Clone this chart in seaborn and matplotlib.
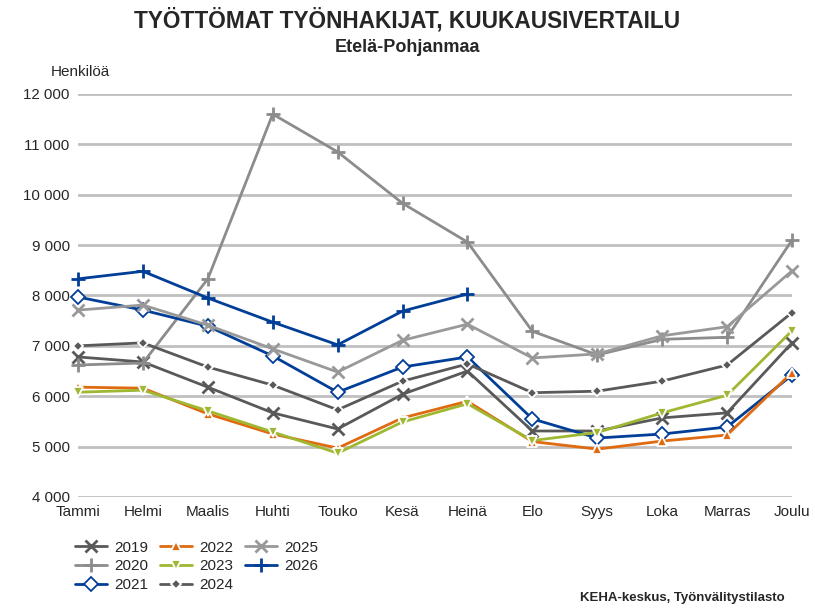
import numpy as np
import pandas as pd
import matplotlib
matplotlib.use("Agg")
import matplotlib.pyplot as plt
import seaborn as sns

months = ["Tammi", "Helmi", "Maalis", "Huhti", "Touko", "Kesä", "Heinä",
          "Elo", "Syys", "Loka", "Marras", "Joulu"]

y2019 = [6780, 6680, 6180, 5670, 5350, 6040, 6500, 5310, 5310, 5570, 5670, 7060]
y2020 = [6620, 6660, 8330, 11600, 10850, 9830, 9060, 7290, 6820, 7130, 7170, 9100]
y2021 = [7970, 7710, 7390, 6800, 6080, 6580, 6780, 5550, 5170, 5250, 5390, 6420]
y2022 = [6180, 6160, 5650, 5250, 4970, 5570, 5900, 5100, 4950, 5110, 5230, 6470]
y2023 = [6080, 6120, 5710, 5290, 4870, 5490, 5850, 5120, 5280, 5670, 6020, 7300]
y2024 = [7000, 7060, 6580, 6220, 5730, 6300, 6640, 6070, 6100, 6300, 6620, 7660]
y2025 = [7710, 7810, 7410, 6940, 6480, 7110, 7430, 6760, 6840, 7200, 7380, 8490]
y2026 = [8330, 8480, 7950, 7470, 7020, 7690, 8030]

years = ["2019", "2020", "2021", "2022", "2023", "2024", "2025", "2026"]
values = [y2019, y2020, y2021, y2022, y2023, y2024, y2025, y2026]

# line colour, marker, marker size, face colour, edge colour
styles = {
    "2019": ("#595959", "x", 8, "#595959", "#595959"),
    "2020": ("#8c8c8c", "+", 10, "#8c8c8c", "#8c8c8c"),
    "2021": ("#003e97", "D", 7, "white", "#003e97"),
    "2022": ("#e06a10", "^", 7, "#e06a10", "white"),
    "2023": ("#9eb831", "v", 7, "#9eb831", "white"),
    "2024": ("#595959", "D", 5, "#595959", "white"),
    "2025": ("#999999", "x", 8, "#999999", "#999999"),
    "2026": ("#003e97", "+", 10, "#003e97", "#003e97"),
}

sns.set_style("white")
plt.rcParams["font.family"] = ["Liberation Sans", "DejaVu Sans"]

fig = plt.figure(figsize=(8.15, 6.11), dpi=100)
ax = fig.add_axes([0.0957, 0.1866, 0.8761, 0.6596])

for yr, vals in zip(years, values):
    color, mk, ms, fc, ec = styles[yr]
    x = np.arange(len(vals))
    mew = 2 if mk in ("x", "+") else 1.3
    sns.lineplot(x=x, y=vals, ax=ax, color=color, linewidth=2, marker=mk,
                 markersize=ms, markerfacecolor=fc, markeredgecolor=ec,
                 markeredgewidth=mew, label=yr, sort=False, clip_on=False, zorder=3)

ax.set_xlim(0, 11)
ax.set_ylim(4000, 12000)
ax.set_xticks(range(12))
ax.set_xticklabels(months, fontsize=11)
ax.set_yticks(range(4000, 12001, 1000))
ax.set_yticklabels([f"{v:,}".replace(",", " ") for v in range(4000, 12001, 1000)], fontsize=10.8)
ax.tick_params(axis="both", length=0, pad=6)
ax.grid(axis="y", color="#c0c0c0", linewidth=2)
ax.set_axisbelow(True)
for s in ax.spines.values():
    s.set_visible(False)
ax.set_xlabel("")
ax.set_ylabel("")

fig.text(0.5, 0.967, "TYÖTTÖMAT TYÖNHAKIJAT, KUUKAUSIVERTAILU", ha="center", va="center",
         fontsize=16.3, fontweight="bold")
fig.text(0.5, 0.922, "Etelä-Pohjanmaa", ha="center", va="center", fontsize=13,
         fontweight="bold")
fig.text(0.062, 0.882, "Henkilöä", ha="left", va="center", fontsize=11)
fig.text(0.963, 0.021, "KEHA-keskus, Työnvälitystilasto", ha="right", va="center",
         fontsize=9.5, fontweight="bold")

ax.legend(ncol=3, loc="upper left", bbox_to_anchor=(0.075, 0.1375),
          bbox_transform=fig.transFigure, frameon=False, fontsize=11,
          handlelength=2.1, columnspacing=0.74, labelspacing=0.3, handletextpad=0.5)

fig.savefig("out.png", dpi=100)
